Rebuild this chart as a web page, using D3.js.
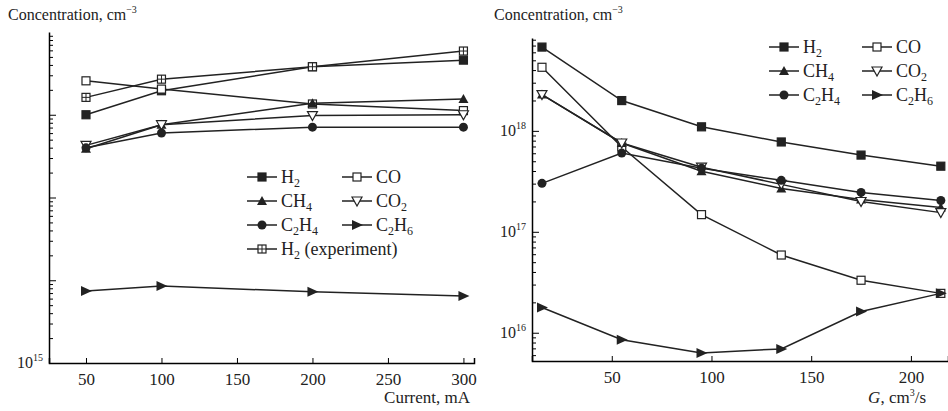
<!DOCTYPE html>
<html><head><meta charset="utf-8">
<script src="https://cdn.jsdelivr.net/npm/d3@7"></script>
<style>body{margin:0;background:#fff}text{font-family:"Liberation Serif",serif;fill:#222}</style>
</head><body><svg id="c" width="948" height="411"></svg>
<script>
// left panel: current, mA
const currentX = [50, 100, 200, 300];
const leftH2 = [18.0, 18.29, 18.58, 18.66];
const leftCO = [18.41, 18.31, 18.13, 18.05];
const leftH2exp = [18.21, 18.43, 18.58, 18.77];
const leftCH4 = [17.59, 17.88, 18.14, 18.19];
const leftCO2 = [17.63, 17.88, 17.99, 18.0];
const leftC2H4 = [17.6, 17.78, 17.85, 17.85];
const leftC2H6 = [15.87, 15.93, 15.86, 15.81];
// right panel: G, cm3/s  (values are log10 of concentration)
const flowX = [15, 55, 95, 135, 175, 215];
const rightH2 = [18.83, 18.30, 18.04, 17.89, 17.76, 17.65];
const rightCO = [18.63, 17.84, 17.17, 16.77, 16.52, 16.39];
const rightCH4 = [18.36, 17.88, 17.60, 17.43, 17.32, 17.24];
const rightCO2 = [18.36, 17.88, 17.64, 17.47, 17.30, 17.19];
const rightC2H4 = [17.48, 17.78, 17.63, 17.51, 17.39, 17.31];
const rightC2H6 = [16.25, 15.93, 15.80, 15.84, 16.21, 16.39];
const leftTicks = [50, 100, 150, 200, 250, 300];
const rightTicks = [50, 100, 150, 200];

const svg = d3.select('#c');
const C = '#222';

function marker(g, type, x, y) {
  const s = 4;
  if (type === 'sq' || type === 'osq' || type === 'xsq') {
    g.append('rect').attr('x', x - s).attr('y', y - s).attr('width', 2 * s).attr('height', 2 * s)
      .attr('fill', type === 'sq' ? C : '#fff').attr('stroke', C).attr('stroke-width', 1.2);
    if (type === 'xsq') {
      g.append('path').attr('d', `M${x - s},${y}H${x + s}M${x},${y - s}V${y + s}`).attr('stroke', C).attr('stroke-width', 1);
    }
  } else if (type === 'tri') {
    g.append('path').attr('d', `M${x},${y - 5}L${x + 5},${y + 4}L${x - 5},${y + 4}Z`).attr('fill', C);
  } else if (type === 'itri') {
    g.append('path').attr('d', `M${x - 5},${y - 4}L${x + 5},${y - 4}L${x},${y + 5}Z`).attr('fill', '#fff').attr('stroke', C).attr('stroke-width', 1.2);
  } else if (type === 'dot') {
    g.append('circle').attr('cx', x).attr('cy', y).attr('r', 4.5).attr('fill', C);
  } else if (type === 'rtri') {
    g.append('path').attr('d', `M${x - 5},${y - 5}L${x + 6},${y}L${x - 5},${y + 5}Z`).attr('fill', C);
  }
}

function panel(o) {
  const x = d3.scaleLinear().domain(o.xDomain).range(o.xRange);
  const y = d3.scaleLog().domain(o.yDomain).range(o.yRange);
  const g = svg.append('g');
  g.append('g').attr('transform', `translate(0,${o.yRange[0]})`)
    .call(d3.axisBottom(x).tickValues(o.ticks).tickSize(-5).tickPadding(10))
    .attr('font-family', 'Liberation Serif').attr('font-size', 17)
    .call(a => a.select('.domain').attr('stroke-width', 1.5));
  const minor = [];
  for (let e = Math.floor(Math.log10(o.yDomain[0])); e < 19; e++)
    for (let m = 1; m < 10; m++) { const v = m * Math.pow(10, e); if (v >= o.yDomain[0] && v <= o.yDomain[1]) minor.push(v); }
  g.append('g').attr('transform', `translate(${o.xRange[0]},0)`)
    .call(d3.axisLeft(y).tickValues(minor).tickSize(0).tickFormat(''))
    .call(a => a.select('.domain').attr('stroke-width', 1.5))
    .call(a => a.selectAll('.tick line').attr('x2', d => Math.abs(Math.log10(d) % 1) < 1e-6 ? 7 : 4));
  o.decLabels.forEach(e => {
    const t = g.append('text').attr('x', o.xRange[0] - 6).attr('y', y(Math.pow(10, e)) + 5).attr('text-anchor', 'end').attr('font-size', 16);
    t.append('tspan').text('10');
    t.append('tspan').text(e).attr('font-size', 10).attr('dy', -7);
  });
  const line = d3.line().x((d, i) => x(o.xs[i])).y(d => y(Math.pow(10, d)));
  o.series.forEach(s => {
    g.append('path').attr('d', line(s.v)).attr('fill', 'none').attr('stroke', C).attr('stroke-width', 1.5);
    s.v.forEach((d, i) => marker(g, s.m, x(o.xs[i]), y(Math.pow(10, d))));
  });
  // legend
  o.legend.forEach(l => {
    g.append('line').attr('x1', l.x).attr('x2', l.x + 30).attr('y1', l.y).attr('y2', l.y).attr('stroke', C).attr('stroke-width', 1.5);
    marker(g, l.m, l.x + 15, l.y);
    const t = g.append('text').attr('x', l.x + 34).attr('y', l.y + 6).attr('font-size', 18);
    l.t.forEach(p => t.append('tspan').text(p[0]).attr('font-size', p[1] ? 12 : 18).attr('dy', p[1] ? 4 : (p[2] ? -4 : 0)));
  });
  const yl = g.append('text').attr('x', o.titleX).attr('y', 20).attr('font-size', 16);
  yl.append('tspan').text('Concentration, cm');
  yl.append('tspan').text('−3').attr('font-size', 10).attr('dy', -7);
}

const legL = (x0, x1, y0) => [
  { x: x0, y: y0, m: 'sq', t: [['H'], ['2', 1], ['', 0, 1]] },
  { x: x1, y: y0, m: 'osq', t: [['CO']] },
  { x: x0, y: y0 + 24, m: 'tri', t: [['CH'], ['4', 1]] },
  { x: x1, y: y0 + 24, m: 'itri', t: [['CO'], ['2', 1]] },
  { x: x0, y: y0 + 48, m: 'dot', t: [['C'], ['2', 1], ['H', 0, 1], ['4', 1]] },
  { x: x1, y: y0 + 48, m: 'rtri', t: [['C'], ['2', 1], ['H', 0, 1], ['6', 1]] }
];

const lLeg = legL(247, 342, 177);
lLeg.push({ x: 247, y: 249, m: 'xsq', t: [['H'], ['2', 1], [' (experiment)', 0, 1]] });
panel({
  xDomain: [25.5, 307], xRange: [49, 474], yDomain: [1e15, 1e19], yRange: [363, 32],
  ticks: leftTicks, xs: currentX, decLabels: [15], titleX: 8,
  series: [
    { v: leftH2, m: 'sq' }, { v: leftCO, m: 'osq' }, { v: leftH2exp, m: 'xsq' },
    { v: leftCH4, m: 'tri' }, { v: leftCO2, m: 'itri' }, { v: leftC2H4, m: 'dot' }, { v: leftC2H6, m: 'rtri' }
  ],
  legend: lLeg
});
panel({
  xDomain: [10, 218.6], xRange: [532, 948], yDomain: [Math.pow(10, 15.72), Math.pow(10, 18.92)], yRange: [361, 38],
  ticks: rightTicks, xs: flowX, decLabels: [16, 17, 18], titleX: 494,
  series: [
    { v: rightH2, m: 'sq' }, { v: rightCO, m: 'osq' }, { v: rightCH4, m: 'tri' },
    { v: rightCO2, m: 'itri' }, { v: rightC2H4, m: 'dot' }, { v: rightC2H6, m: 'rtri' }
  ],
  legend: legL(769, 862, 47)
});

svg.append('text').attr('x', 470).attr('y', 403).attr('text-anchor', 'end').attr('font-size', 17).text('Current, mA');
const gl = svg.append('text').attr('x', 926).attr('y', 403).attr('text-anchor', 'end').attr('font-size', 17);
gl.append('tspan').text('G').attr('font-style', 'italic');
gl.append('tspan').text(', cm');
gl.append('tspan').text('3').attr('font-size', 10).attr('dy', -7);
gl.append('tspan').text('/s').attr('dy', 7);
</script></body></html>
